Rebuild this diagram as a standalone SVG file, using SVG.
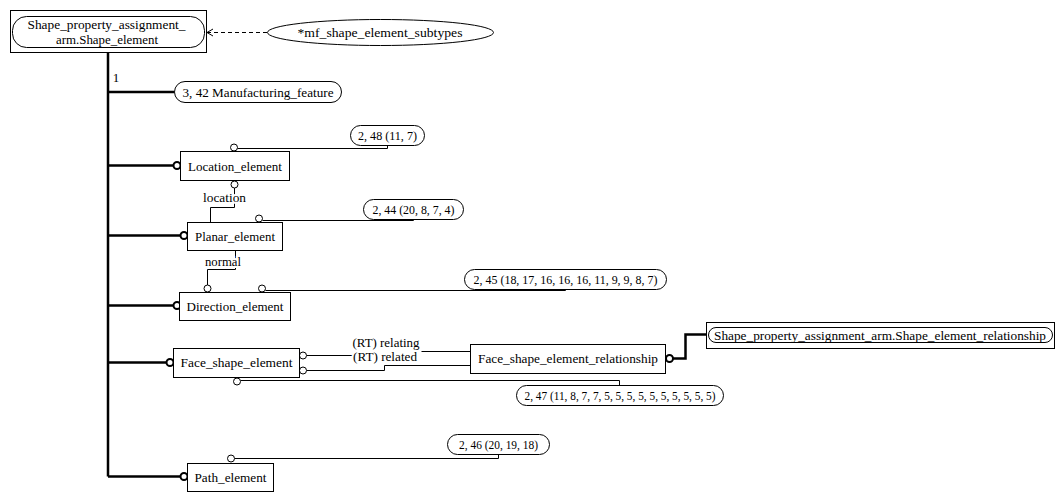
<svg xmlns="http://www.w3.org/2000/svg" width="1063" height="501" viewBox="0 0 1063 501">
<defs>
<style>
text{font-family:"Liberation Serif","Times New Roman",serif;font-size:13px;fill:#000;text-anchor:middle}
.box{fill:#fff;stroke:#000;stroke-width:1}
.pill{fill:#fff;stroke:#000;stroke-width:1}
.thin{fill:none;stroke:#000;stroke-width:1}
.thick{fill:none;stroke:#000;stroke-width:2.5}
.oc{fill:#fff;stroke:#000;stroke-width:1}
.ocb{fill:#fff;stroke:#000;stroke-width:2}
.lbl{stroke:#fff;stroke-width:4;paint-order:stroke;stroke-linejoin:round}
</style>
<marker id="open" markerWidth="10" markerHeight="10" refX="9" refY="5" orient="auto" markerUnits="userSpaceOnUse">
<path d="M9,5 L3,1.5 M9,5 L3,8.5" fill="none" stroke="#000" stroke-width="1"/>
</marker>
</defs>

<g id="connectors">
<path class="thin" d="M267,32.5 H207" stroke-dasharray="4,3" marker-end="url(#open)"/>
<path class="thick" d="M108,52 V476.5"/>
<path class="thick" d="M108,92 H174"/>
<path class="thick" d="M108,165.5 H173.5"/>
<path class="thick" d="M108,235.5 H180.5"/>
<path class="thick" d="M108,305.5 H173.5"/>
<path class="thick" d="M108,362.5 H166.5"/>
<path class="thick" d="M108,476.5 H180.5"/>
<path class="thin" d="M237.5,148.5 H387.5 V145"/>
<path class="thin" d="M234.5,188 V207.5 H210.5 V222"/>
<path class="thin" d="M262.5,220.5 H413.5 V219"/>
<path class="thin" d="M235.5,250 V269.5 H207.5 V285"/>
<path class="thin" d="M265.5,290.5 H565.5 V289"/>
<path class="thin" d="M306.5,355.5 H354 M421.5,351.5 H470"/>
<path class="thin" d="M306.5,370.5 H384.5 V365.5 H470"/>
<path class="thin" d="M240.5,380.5 H619.5 V385"/>
<path class="thin" d="M234.5,458.5 H498.5 V454"/>
<path class="thick" d="M673,358.5 H685.5 V334.5 H706"/>
<circle class="ocb" cx="177" cy="165.5" r="3.5"/>
<circle class="ocb" cx="184" cy="235.5" r="3.5"/>
<circle class="ocb" cx="177" cy="305.5" r="3.5"/>
<circle class="ocb" cx="170" cy="362.5" r="3.5"/>
<circle class="ocb" cx="184" cy="476.5" r="3.5"/>
<circle class="ocb" cx="669.5" cy="358.5" r="3.5"/>
<circle class="oc" cx="234" cy="147.5" r="3.5"/>
<circle class="oc" cx="234.5" cy="184.5" r="3.5"/>
<circle class="oc" cx="259" cy="218.5" r="3.5"/>
<circle class="oc" cx="207.5" cy="288.5" r="3.5"/>
<circle class="oc" cx="262" cy="288.5" r="3.5"/>
<circle class="oc" cx="303" cy="355.5" r="3.5"/>
<circle class="oc" cx="303" cy="370.5" r="3.5"/>
<circle class="oc" cx="237" cy="381.5" r="3.5"/>
<circle class="oc" cx="231" cy="458.5" r="3.5"/>
<text x="116" y="82">1</text>
<text class="lbl" x="224.5" y="202" textLength="43" lengthAdjust="spacingAndGlyphs">location</text>
<text class="lbl" x="223" y="266" textLength="36" lengthAdjust="spacingAndGlyphs">normal</text>
<text class="lbl" x="386" y="347" textLength="67" lengthAdjust="spacingAndGlyphs">(RT) relating</text>
<text class="lbl" x="385" y="361" textLength="64" lengthAdjust="spacingAndGlyphs">(RT) related</text>
</g>

<g id="shape_element">
<rect class="box" x="10.5" y="10.5" width="196" height="42"/>
<rect class="pill" x="12.5" y="16.5" width="192" height="31" rx="14" ry="14"/>
<text x="106.5" y="29" textLength="158" lengthAdjust="spacingAndGlyphs">Shape_property_assignment_</text>
<text x="107" y="43.5" textLength="102" lengthAdjust="spacingAndGlyphs">arm.Shape_element</text>
</g>

<g id="mf_shape_element_subtypes">
<ellipse class="pill" cx="380.5" cy="32.5" rx="113" ry="13"/>
<text x="380" y="37" textLength="165" lengthAdjust="spacingAndGlyphs">*mf_shape_element_subtypes</text>
</g>

<g id="manufacturing_feature">
<rect class="pill" x="174.5" y="81.5" width="167" height="21" rx="10.5" ry="10.5"/>
<text x="258" y="96.5" textLength="151" lengthAdjust="spacingAndGlyphs">3, 42 Manufacturing_feature</text>
</g>

<g id="location_element">
<rect class="box" x="180.5" y="151.5" width="109" height="29"/>
<text x="235" y="170.5" textLength="94" lengthAdjust="spacingAndGlyphs">Location_element</text>
</g>
<g id="ref_2_48">
<rect class="pill" x="350.5" y="125.5" width="74" height="20" rx="10" ry="10"/>
<text x="387.5" y="140" textLength="59" lengthAdjust="spacingAndGlyphs">2, 48 (11, 7)</text>
</g>

<g id="planar_element">
<rect class="box" x="187.5" y="222.5" width="95" height="28"/>
<text x="235" y="240.5" textLength="80" lengthAdjust="spacingAndGlyphs">Planar_element</text>
</g>
<g id="ref_2_44">
<rect class="pill" x="363.5" y="199.5" width="100" height="20" rx="10" ry="10"/>
<text x="413.5" y="214" textLength="82" lengthAdjust="spacingAndGlyphs">2, 44 (20, 8, 7, 4)</text>
</g>

<g id="direction_element">
<rect class="box" x="179.5" y="292.5" width="111" height="28"/>
<text x="235" y="310.5" textLength="97" lengthAdjust="spacingAndGlyphs">Direction_element</text>
</g>
<g id="ref_2_45">
<rect class="pill" x="464.5" y="269.5" width="202" height="20" rx="10" ry="10"/>
<text x="565.5" y="284" textLength="184" lengthAdjust="spacingAndGlyphs">2, 45 (18, 17, 16, 16, 16, 11, 9, 9, 8, 7)</text>
</g>

<g id="face_shape_element">
<rect class="box" x="173.5" y="348.5" width="126" height="29"/>
<text x="236.5" y="367" textLength="112" lengthAdjust="spacingAndGlyphs">Face_shape_element</text>
</g>

<g id="face_shape_element_relationship">
<rect class="box" x="470.5" y="344.5" width="195" height="29"/>
<text x="568" y="363" textLength="180" lengthAdjust="spacingAndGlyphs">Face_shape_element_relationship</text>
</g>

<g id="shape_element_relationship">
<rect class="box" x="706.5" y="322.5" width="348" height="26"/>
<rect class="pill" x="708.5" y="327.5" width="344" height="15" rx="7.5" ry="7.5"/>
<text x="880" y="339.5" textLength="332" lengthAdjust="spacingAndGlyphs">Shape_property_assignment_arm.Shape_element_relationship</text>
</g>

<g id="ref_2_47">
<rect class="pill" x="516.5" y="385.5" width="207" height="20" rx="10" ry="10"/>
<text x="620" y="400" textLength="191" lengthAdjust="spacingAndGlyphs">2, 47 (11, 8, 7, 7, 5, 5, 5, 5, 5, 5, 5, 5, 5, 5)</text>
</g>

<g id="path_element">
<rect class="box" x="187.5" y="463.5" width="86" height="28"/>
<text x="230.5" y="481.5" textLength="72" lengthAdjust="spacingAndGlyphs">Path_element</text>
</g>
<g id="ref_2_46">
<rect class="pill" x="447.5" y="434.5" width="102" height="20" rx="10" ry="10"/>
<text x="498.5" y="449" textLength="79" lengthAdjust="spacingAndGlyphs">2, 46 (20, 19, 18)</text>
</g>
</svg>
